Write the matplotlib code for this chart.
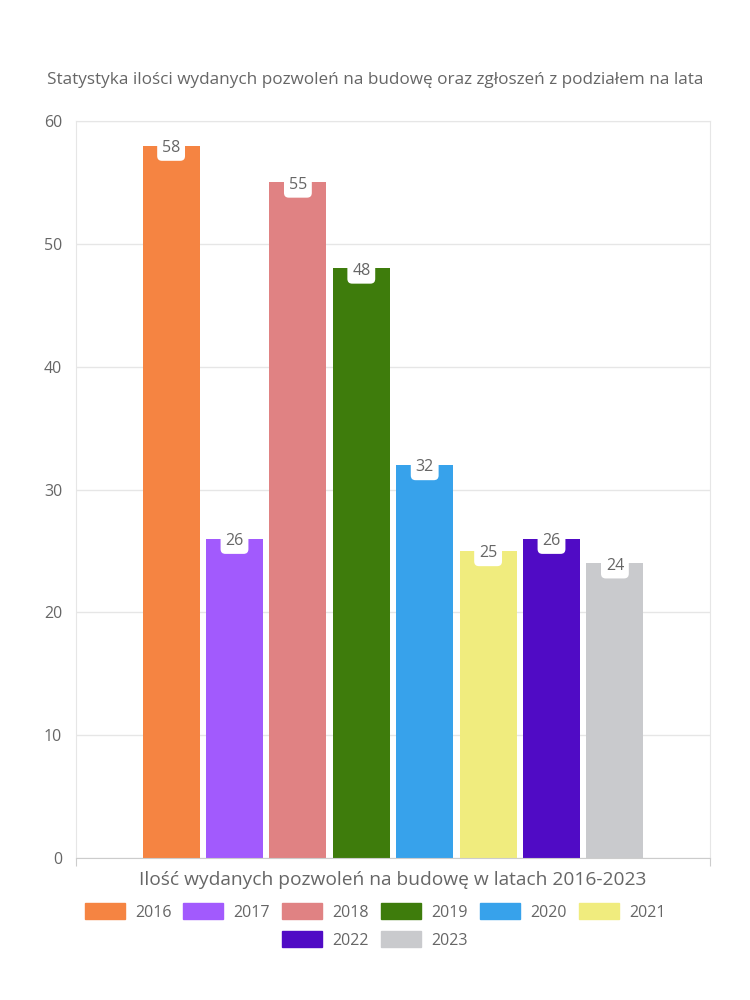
import matplotlib.pyplot as plt
from matplotlib.patches import Patch

# Data
years = ['2016', '2017', '2018', '2019', '2020', '2021', '2022', '2023']
values = [58, 26, 55, 48, 32, 25, 26, 24]
colors = ['#f58442', '#a25afd', '#e08283', '#3e7c0c', '#37a2eb',
          '#f0ec7e', '#500bc5', '#c9cacd']

title = 'Statystyka ilości wydanych pozwoleń na budowę oraz zgłoszeń z podziałem na lata'
xlabel = 'Ilość wydanych pozwoleń na budowę w latach 2016-2023'

plt.rcParams['font.family'] = ['Open Sans', 'DejaVu Sans']
txt = '#666666'
grid = '#e6e6e6'

fig = plt.figure(figsize=(7.5, 10), dpi=100)
ax = fig.add_axes([76 / 750, 142 / 1000, 634 / 750, 737 / 1000])

x = list(range(len(years)))
ax.bar(x, values, width=0.9, color=colors, zorder=2)
ax.set_xlim(-1.5, len(years) + 0.5)
ax.set_ylim(0, 60)
ax.set_yticks(range(0, 61, 10))
ax.yaxis.grid(True, color=grid, lw=1, zorder=0)
ax.tick_params(axis='y', length=0, labelsize=11.5, labelcolor=txt, pad=10)
ax.set_xticks([-1.5, len(years) + 0.5])
ax.set_xticklabels(['', ''])
ax.tick_params(axis='x', length=6, color='#cccccc')
for s in ['left', 'right', 'top']:
    ax.spines[s].set_color(grid)
ax.spines['bottom'].set_color('#cccccc')

for xi, v in zip(x, values):
    ax.text(xi, v - 0.2, str(v), ha='center', va='center', fontsize=11.5,
            color=txt, zorder=3,
            bbox=dict(boxstyle='round,pad=0.3,rounding_size=0.3', fc='white', ec='none'))

fig.text(0.5, 0.92, title, ha='center', va='center', fontsize=12.3, color=txt)
fig.text(0.523, 0.12, xlabel, ha='center', va='center', fontsize=13.8, color=txt)

handles = [Patch(color=c, label=y) for c, y in zip(colors, years)]
kw = dict(frameon=False, fontsize=11.5, labelcolor=txt, handlelength=2.5,
          handleheight=1.15, columnspacing=0.75, handletextpad=0.65)
fig.legend(handles=handles[:6], loc='center', bbox_to_anchor=(0.5, 0.088),
           ncol=6, **kw)
fig.legend(handles=handles[6:], loc='center', bbox_to_anchor=(0.5, 0.06),
           ncol=2, **kw)

fig.savefig('out.png', dpi=100, facecolor='white')
